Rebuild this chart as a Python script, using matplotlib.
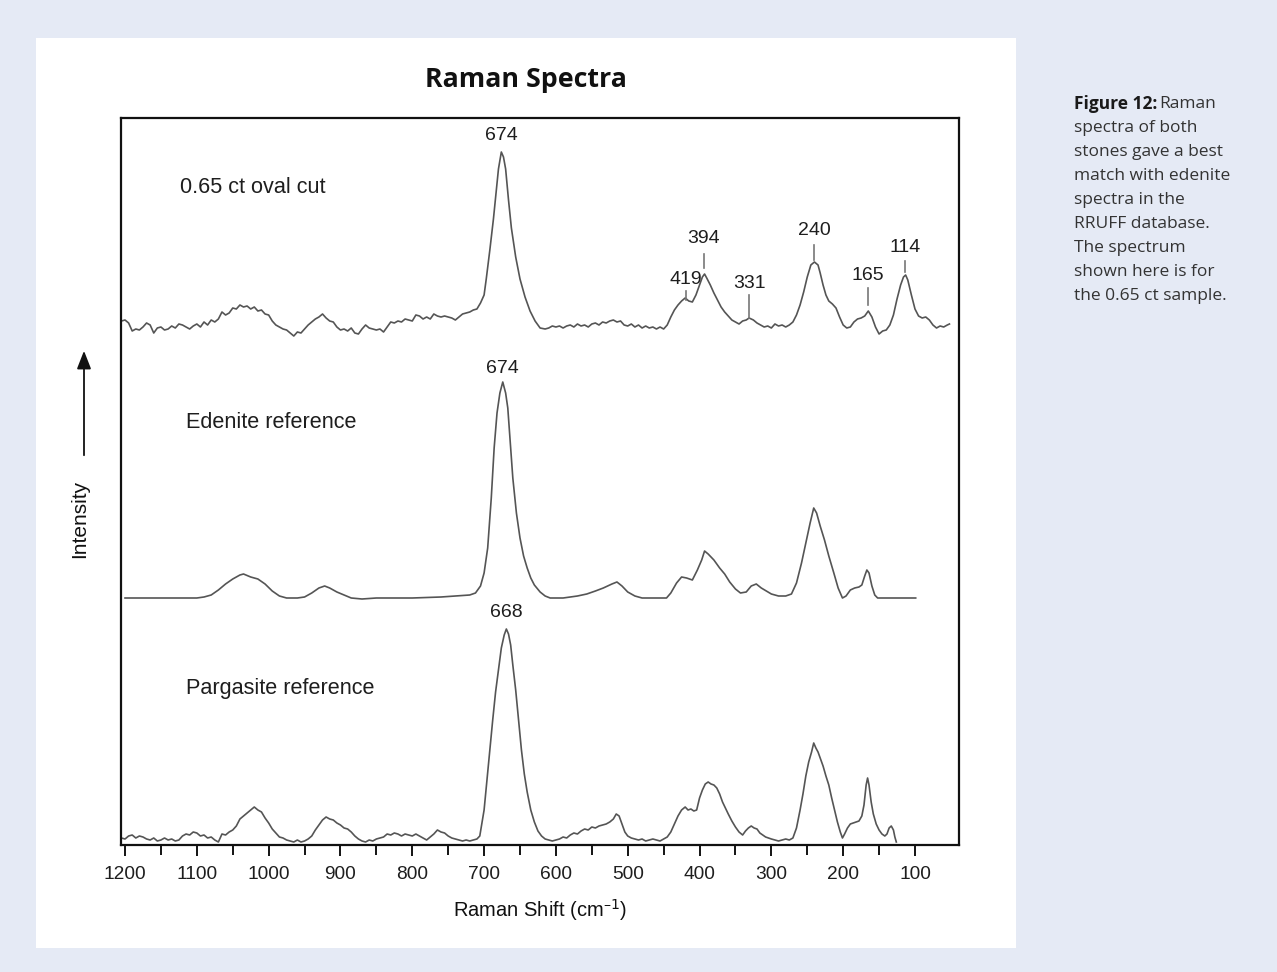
import matplotlib
matplotlib.use("Agg")
import matplotlib.pyplot as plt
from matplotlib.patches import Rectangle, FancyArrowPatch
import numpy as np

# ---------------- data ----------------
# 0.65 ct oval cut : wavenumber (cm-1) and intensity above its own baseline (arb.)
oval_w = [1205,1200,1195,1190,1185,1180,1175,1170,1165,1160,1155,1150,1145,1140,1135,1130,1125,1120,1115,1110,
          1105,1100,1095,1090,1085,1080,1075,1070,1065,1060,1055,1050,1045,1040,1035,1030,1025,1020,1015,1010,
          1005,1000,995,990,985,980,975,970,965,960,955,950,945,940,935,930,925,920,915,910,
          905,900,895,890,885,880,875,870,865,860,855,850,845,840,835,830,825,820,815,810,
          805,800,795,790,785,780,775,770,765,760,755,750,745,740,735,730,725,720,715,710,
          705,700,697,692,687,683,680,676,673,670,666,662,656,650,643,636,629,622,
          615,610,605,600,595,590,585,580,575,570,565,560,555,550,545,540,535,530,525,520,
          515,510,505,500,495,490,485,480,475,470,465,460,455,450,445,440,435,430,425,420,
          415,410,405,400,396,393,390,385,380,375,370,365,360,355,350,345,340,335,331,325,
          320,315,310,305,300,295,290,285,280,275,270,265,260,255,250,245,240,235,232,228,
          224,220,215,210,205,200,195,190,185,180,175,170,165,160,155,150,145,140,135,130,
          125,120,116,113,110,105,100,95,90,85,80,75,70,65,60,55,52]
oval_i = [4,5,2,-6,-4,-5,-2,2,0,-8,-3,-2,-5,-4,-1,-3,1,0,-2,-4,
          -1,1,-2,3,0,5,3,6,13,10,12,17,16,20,18,19,16,18,14,15,
          11,10,4,0,-2,-4,-5,-8,-11,-7,-8,-4,0,3,6,8,11,7,4,3,
          -2,-5,-4,-6,-3,-8,-9,-4,0,-3,-4,-5,-4,-7,-2,3,2,4,3,6,
          5,4,10,9,6,8,6,11,9,8,9,8,7,5,8,11,12,13,15,16,
          22,30,46,75,106,135,156,173,168,156,125,97,68,46,28,14,4,-3,
          -4,-3,-1,-2,-1,-3,-1,0,-2,1,-1,0,-2,1,2,0,3,2,4,5,
          3,4,0,-1,1,-2,0,-3,-1,-3,-2,-4,-2,-4,0,8,15,20,24,27,
          24,23,30,40,48,51,47,40,32,25,18,13,9,5,3,1,4,5,7,5,
          2,0,-2,-1,-3,1,-1,0,-2,0,3,10,20,33,48,60,63,60,52,40,
          30,24,21,17,8,0,-3,-2,3,6,7,9,14,8,-2,-9,-6,-5,0,10,
          26,40,48,50,45,30,16,9,7,8,5,0,-3,-1,-2,0,1]

# Edenite reference
eden_w = [1200,1150,1100,1090,1080,1070,1060,1050,1040,1035,1025,1015,1005,995,985,975,960,950,940,930,922,915,
          905,895,885,870,850,800,760,740,720,712,705,700,695,690,686,682,678,674,670,667,663,660,655,650,645,640,
          635,630,622,615,608,590,570,557,545,534,522,515,508,500,490,480,460,446,440,432,425,418,410,403,397,393,
          388,380,372,365,358,350,343,335,328,321,314,307,300,290,280,272,265,258,252,246,241,237,232,226,220,213,
          207,201,196,190,184,178,174,170,167,164,160,156,152,140,120,99]
eden_i = [0,0,0,1,3,8,14,19,23,24,21,19,14,7,2,0,0,1,5,10,12,10,
          6,3,0,-1,0,0,1,2,3,5,12,25,50,100,150,185,205,216,205,190,150,120,85,60,42,30,
          20,13,6,2,0,0,2,4,7,10,14,16,12,6,2,0,0,0,5,15,21,20,18,28,38,47,
          44,38,30,24,16,9,5,6,12,14,10,7,4,2,2,4,15,35,55,75,90,85,72,58,42,25,
          10,0,2,8,10,11,13,22,28,25,12,3,0,0,0,0]

# Pargasite reference
parg_w = [1205,1200,1195,1190,1185,1180,1175,1170,1165,1160,1155,1150,1145,1140,1135,1130,1125,1120,1115,1110,
          1105,1100,1095,1090,1085,1080,1075,1070,1065,1060,1055,1050,1045,1040,1035,1030,1025,1020,1015,1010,
          1005,1000,995,990,985,980,975,970,965,960,955,950,945,940,935,930,925,920,915,910,
          905,900,895,890,885,880,875,870,865,860,855,850,845,840,835,830,825,820,815,810,
          805,800,795,790,785,780,775,770,765,760,755,750,745,740,735,730,725,720,715,710,
          706,700,696,692,688,684,680,676,672,669,666,663,660,656,652,648,644,640,635,630,
          625,620,615,610,605,600,595,590,585,580,575,570,565,560,555,550,545,540,535,530,
          525,520,516,512,508,504,500,495,490,485,480,475,470,465,460,455,450,445,440,435,
          430,425,420,416,412,408,404,400,396,392,388,384,380,376,372,368,364,360,355,350,
          345,340,336,332,328,324,320,316,312,308,304,300,295,290,285,280,275,270,265,260,
          256,252,248,244,241,238,235,232,228,224,220,216,212,208,204,201,198,194,190,186,
          182,178,174,171,168,166,164,161,158,154,150,146,142,139,136,133,130,128,126]
parg_i = [2,1,4,5,2,4,3,1,0,2,-1,0,2,0,1,-1,0,4,6,5,
          8,7,4,5,2,3,0,-2,6,5,8,10,14,21,24,27,30,33,30,28,
          22,17,11,7,3,2,0,-1,-2,0,-2,-1,1,4,10,15,20,23,21,20,
          17,15,12,11,8,4,1,-1,-2,0,-1,1,2,3,6,5,7,6,4,6,
          5,4,6,4,2,0,3,6,10,8,7,4,2,1,0,-1,0,-1,0,1,
          4,30,60,90,120,148,170,192,205,211,206,195,175,150,120,90,66,48,30,18,
          9,4,1,0,-1,0,1,3,2,5,7,6,9,11,10,13,12,14,15,16,
          18,21,26,24,16,8,4,2,1,0,1,-1,0,1,0,-1,1,3,8,16,
          24,30,33,30,31,29,30,42,50,56,58,56,55,52,46,38,32,26,19,13,
          8,5,9,12,14,12,11,7,5,3,2,1,0,-1,0,1,0,2,12,30,
          46,64,78,88,97,92,88,82,74,64,55,42,30,18,8,2,6,12,16,17,
          18,19,24,35,55,62,55,38,26,16,10,6,4,6,12,14,10,3,-2]

spectrum_names = ["0.65 ct oval cut", "Edenite reference", "Pargasite reference"]
main_peaks = ["674", "674", "668"]
marked_peaks = [419, 394, 331, 240, 165, 114]
major_ticks = [1200, 1100, 1000, 900, 800, 700, 600, 500, 400, 300, 200, 100]
minor_ticks = [1150, 1050, 950, 850, 750, 650, 550, 450, 350, 250, 150]

caption_lines = ["spectra of both", "stones gave a best", "match with edenite",
                 "spectra in the", "RRUFF database.", "The spectrum",
                 "shown here is for", "the 0.65 ct sample."]

# ---------------- layout ----------------
W, H = 1277, 972
fig = plt.figure(figsize=(W / 100, H / 100), dpi=100)
fig.patch.set_facecolor("#e5eaf5")
fig.add_artist(Rectangle((36 / W, 1 - 948 / H), (1016 - 36) / W, (948 - 38) / H,
                         transform=fig.transFigure, facecolor="white", edgecolor="none", zorder=0))

ax = fig.add_axes([121 / W, 1 - 845 / H, (959 - 121) / W, (845 - 118) / H])
ax.set_facecolor("white")
ax.set_xlim(1205.6, 38.7)
ax.set_ylim(0, 727)

line_col = "#555555"
offsets = [520, 247, 5]
for (w, i), off in zip([(oval_w, oval_i), (eden_w, eden_i), (parg_w, parg_i)], offsets):
    ax.plot(w, np.array(i) + off, color=line_col, lw=1.2)

txt_col = "#1e1e1e"
# spectrum names
name_pos = [(1123, 658), (1115, 423), (1115, 157)]
for name, (x, y) in zip(spectrum_names, name_pos):
    ax.text(x, y, name, fontsize=15.6, family="Liberation Sans", va="center", ha="left", color=txt_col)

# main peak labels
main_pos = [(676, 710), (674, 477), (669, 233)]
for lab, (x, y) in zip(main_peaks, main_pos):
    ax.text(x, y, lab, fontsize=14, family="Liberation Sans", ha="center", va="center", color=txt_col)

# marked peak labels with tick lines
mark_geom = {419: (545, 554, 563), 394: (577, 591, 604), 331: (527, 550, 559),
             240: (585, 600, 612), 165: (540, 557, 567), 114: (573, 584, 595)}
for p in marked_peaks:
    y0, y1, yt = mark_geom[p]
    ax.plot([p, p], [y0, y1], color="#777777", lw=1.2)
    ax.text(p, yt + 3, str(p), fontsize=14, family="Liberation Sans", ha="center", va="center", color=txt_col)

ax.set_yticks([])
ax.set_xticks(major_ticks)
ax.set_xticks(minor_ticks, minor=True)
ax.tick_params(axis="x", which="major", length=8, width=1.3, direction="out", pad=7, labelsize=13.8)
ax.tick_params(axis="x", which="minor", length=7, width=1.3, direction="out")
for lab in ax.get_xticklabels():
    lab.set_family("Liberation Sans")
    lab.set_color(txt_col)
for sp in ax.spines.values():
    sp.set_linewidth(1.6)
    sp.set_color("#111111")

# axis labels
fig.text(540 / W, 1 - 910 / H, "Raman Shift (cm$^{\\mathregular{\u2013}1}$)", fontsize=14.5,
         family="Liberation Sans", ha="center", va="center", color="#111111")
fig.text(80 / W, 1 - 519 / H, "Intensity", rotation=90, fontsize=15,
         family="Liberation Sans", ha="center", va="center", color="#111111")
fig.add_artist(FancyArrowPatch(
    (84 / W, 1 - 458 / H), (84 / W, 1 - 348 / H), transform=fig.transFigure,
    arrowstyle="-|>,head_length=11,head_width=4.3", color="#111111", lw=1.3, mutation_scale=1))

# title
fig.text(526 / W, 1 - 80 / H, "Raman Spectra", fontsize=19.3, fontweight="bold",
         family="Open Sans", ha="center", va="center", color="#111111")

# caption
cap_x = 1074 / W
fig.text(cap_x, 1 - 104 / H, "Figure 12:", fontsize=12.5, fontweight="bold", family="Open Sans",
         ha="left", va="center", color="#1a1a1a")
fig.text(1159 / W, 1 - 104 / H, "Raman", fontsize=12.5, family="Open Sans",
         ha="left", va="center", color="#333333")
for k, line in enumerate(caption_lines):
    fig.text(cap_x, 1 - (128 + 24 * k) / H, line, fontsize=12.5, family="Open Sans",
             ha="left", va="center", color="#333333")

fig.savefig("out.png", dpi=100, facecolor=fig.get_facecolor())
